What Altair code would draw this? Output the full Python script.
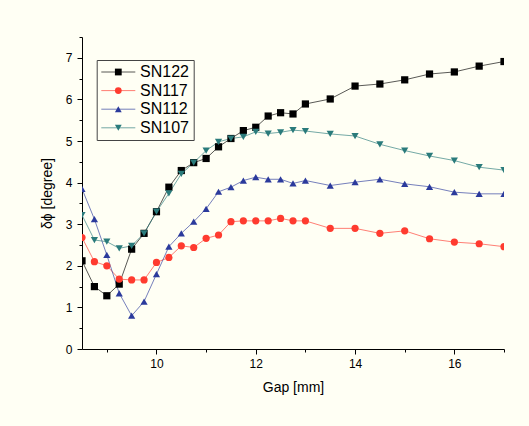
import altair as alt
import pandas as pd

gap = [8.5, 8.75, 9, 9.25, 9.5, 9.75, 10, 10.25, 10.5, 10.75, 11, 11.25, 11.5,
       11.75, 12, 12.25, 12.5, 12.75, 13, 13.5, 14, 14.5, 15, 15.5, 16, 16.5, 17]
sn122 = [2.12, 1.50, 1.28, 1.56, 2.40, 2.78, 3.30, 3.89, 4.29, 4.48, 4.58, 4.86, 5.06,
         5.25, 5.33, 5.60, 5.68, 5.65, 5.89, 6.01, 6.32, 6.37, 6.47, 6.61, 6.66, 6.80, 6.91]
sn117 = [2.68, 2.10, 2.00, 1.68, 1.66, 1.66, 2.08, 2.20, 2.48, 2.44, 2.66, 2.74, 3.06,
         3.08, 3.08, 3.08, 3.14, 3.08, 3.08, 2.90, 2.90, 2.78, 2.84, 2.65, 2.57, 2.53, 2.46]
sn112 = [3.85, 3.12, 2.26, 1.34, 0.80, 1.14, 1.80, 2.46, 2.78, 3.06, 3.37, 3.78, 3.89,
         4.05, 4.13, 4.08, 4.08, 3.98, 4.05, 3.93, 4.01, 4.08, 3.97, 3.90, 3.77, 3.73, 3.73]
sn107 = [3.22, 2.62, 2.58, 2.42, 2.48, 2.78, 3.30, 3.74, 4.21, 4.48, 4.77, 4.98, 5.06,
         5.10, 5.22, 5.18, 5.21, 5.26, 5.24, 5.17, 5.12, 4.92, 4.77, 4.64, 4.53, 4.37, 4.30]

series_names = ["SN122", "SN117", "SN112", "SN107"]
colors = ["#000000", "#ff3b2f", "#2b3a9c", "#2a7b7b"]
shapes = ["square", "circle", "triangle-up", "triangle-down"]
x_major = [10, 12, 14, 16]
x_minor = [9, 11, 13, 15, 17]
y_major = [0, 1, 2, 3, 4, 5, 6, 7]
y_minor = [0.5, 1.5, 2.5, 3.5, 4.5, 5.5, 6.5, 7.5]

rows = []
for name, vals in zip(series_names, [sn122, sn117, sn112, sn107]):
    for g, v in zip(gap, vals):
        rows.append({"gap": g, "val": v, "series": name, "series_m": name})
df = pd.DataFrame(rows)

FONT = "Liberation Sans"
xscale = alt.Scale(domain=[8.5, 17], nice=False, zero=False)
yscale = alt.Scale(domain=[0, 7.5], nice=False)
color_scale = alt.Scale(domain=series_names, range=colors)
shape_scale = alt.Scale(domain=series_names, range=shapes)

LX, LY = 14.7, 23
ROWPAD = 2.6
LFS = 16
SYM_OFF = 9.6
LAB_OFF = 13.7

line_legend = alt.Legend(
    title=None, orient="none", legendX=LX, legendY=LY, padding=4,
    strokeColor="#444444", labelFont=FONT, labelFontSize=LFS, labelColor="#000000",
    labelOffset=LAB_OFF, rowPadding=ROWPAD, symbolType="M-3.4,0H3.4", symbolSize=100,
    symbolOffset=SYM_OFF, symbolStrokeWidth=1, symbolOpacity=0.65,
)
marker_legend = alt.Legend(
    title=None, orient="none", legendX=LX, legendY=LY, padding=4,
    labelFont=FONT, labelFontSize=LFS, labelOpacity=0,
    labelOffset=LAB_OFF, rowPadding=ROWPAD, symbolSize=46, symbolOffset=SYM_OFF,
    symbolOpacity=1,
)

axis_common = dict(domainColor="#000000", tickColor="#000000", labelColor="#000000",
                   titleColor="#000000", labelFont=FONT, titleFont=FONT, grid=False,
                   titleFontWeight="normal", domainWidth=1, tickWidth=1)

x_major_axis = alt.Axis(orient="bottom", values=x_major, tickSize=5, labelFontSize=12,
                        labelPadding=4, title="Gap [mm]", titleFontSize=14,
                        titlePadding=11, **axis_common)
y_major_axis = alt.Axis(orient="left", values=y_major, tickSize=5, labelFontSize=12,
                        labelPadding=5, title="δϕ [degree]", titleFontSize=14,
                        titlePadding=11, format="d", **axis_common)
x_minor_axis = alt.Axis(orient="bottom", values=x_minor, tickSize=3, labels=False,
                        domain=False, title=None, grid=False, tickColor="#000000")
y_minor_axis = alt.Axis(orient="left", values=y_minor, tickSize=3, labels=False,
                        domain=False, title=None, grid=False, tickColor="#000000")

base = alt.Chart(df)

lines = base.mark_line(strokeWidth=1, strokeOpacity=0.65, clip=True).encode(
    x=alt.X("gap:Q", scale=xscale, axis=x_major_axis),
    y=alt.Y("val:Q", scale=yscale, axis=y_major_axis),
    color=alt.Color("series:N", scale=color_scale, legend=line_legend),
    detail="series:N",
)

points = base.mark_point(filled=True, opacity=1, size=52, clip=True).encode(
    x=alt.X("gap:Q", scale=xscale, axis=None),
    y=alt.Y("val:Q", scale=yscale, axis=None),
    color=alt.Color("series_m:N", scale=color_scale, legend=marker_legend),
    shape=alt.Shape("series_m:N", scale=shape_scale, legend=marker_legend),
)

minor = base.mark_point(opacity=0).encode(
    x=alt.X("gap:Q", scale=xscale, axis=x_minor_axis),
    y=alt.Y("val:Q", scale=yscale, axis=y_minor_axis),
)

chart = alt.layer(lines, points, minor).resolve_axis(
    x="independent", y="independent"
).resolve_scale(
    color="independent", shape="independent"
).resolve_legend(
    color="independent", shape="independent"
).properties(
    width=422, height=312,
    autosize=alt.AutoSizeParams(type="none"),
    padding={"left": 82, "top": 37, "right": 25, "bottom": 77},
    background="#fffff4",
).configure_view(stroke=None)

chart.save("out.html", embed_options={"renderer": "svg", "actions": False})
